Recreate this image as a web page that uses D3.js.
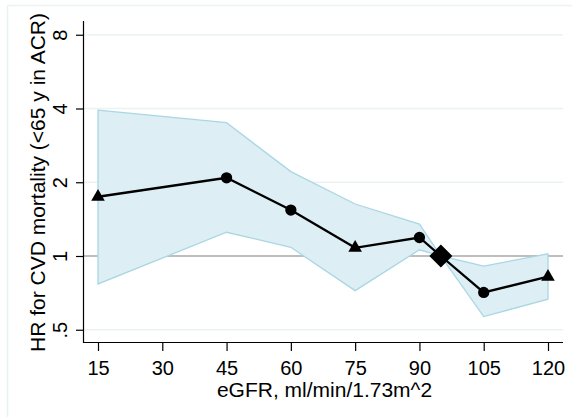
<!DOCTYPE html>
<html><head><meta charset="utf-8">
<script src="https://cdn.jsdelivr.net/npm/d3@7"></script>
<style>
html,body{margin:0;padding:0;background:#fff;}
svg{display:block;}
text{font-family:"Liberation Sans",Arial,Helvetica,sans-serif;fill:#000;}
</style></head>
<body>
<svg id="chart" width="572" height="417"></svg>
<script>
const eGFR   = [15, 45, 60, 75, 90, 95, 105, 120];
const hr     = [1.745, 2.086, 1.54, 1.08, 1.19, 1.0, 0.71, 0.823];
const lower  = [0.769, 1.25, 1.085, 0.722, 1.06, 1.0, 0.566, 0.666];
const upper  = [3.94, 3.50, 2.21, 1.63, 1.35, 1.0, 0.91, 1.02];
const markers = ["triangle","circle","circle","triangle","circle","diamond","circle","triangle"];
const xTicks = [15, 30, 45, 60, 75, 90, 105, 120];
const yTicks = [0.5, 1, 2, 4, 8];
const yTickLabels = [".5", "1", "2", "4", "8"];
const xTitle = "eGFR, ml/min/1.73m^2";
const yTitle = "HR for CVD mortality (<65 y in ACR)";

const svg = d3.select("#chart");
const W = 572, H = 417;
const plotL = 84, plotR = 563, plotT = 21, plotB = 342;

const x = d3.scaleLinear().domain([15, 120]).range([98, 548]);
const y = d3.scaleLog().base(2).domain([0.5, 8]).range([329.75, 34.75]);

// outer frame
svg.append("rect").attr("x", 7.5).attr("y", 5.5).attr("width", W).attr("height", H)
  .attr("fill", "#fff").attr("stroke", "#eaf2f3").attr("stroke-width", 1.5);

// gridlines
svg.append("g").selectAll("line").data(yTicks.filter(d => d !== 1)).join("line")
  .attr("x1", plotL).attr("x2", plotR)
  .attr("y1", d => y(d)).attr("y2", d => y(d))
  .attr("stroke", "#eaf2f3").attr("stroke-width", 1.5);

// reference line at 1
svg.append("line").attr("x1", plotL).attr("x2", plotR)
  .attr("y1", y(1)).attr("y2", y(1))
  .attr("stroke", "#7f7f7f").attr("stroke-width", 1.2);

// CI band
const data = eGFR.map((e, i) => ({e, hr: hr[i], lo: lower[i], hi: upper[i], m: markers[i]}));
const area = d3.area().x(d => x(d.e)).y0(d => y(d.lo)).y1(d => y(d.hi));
svg.append("path").datum(data).attr("d", area)
  .attr("fill", "#ddeef4").attr("stroke", "#a9d7e3").attr("stroke-width", 1.3)
  .attr("stroke-linejoin", "miter");

// line
const line = d3.line().x(d => x(d.e)).y(d => y(d.hr));
svg.append("path").datum(data).attr("d", line)
  .attr("fill", "none").attr("stroke", "#000").attr("stroke-width", 2.3);

// markers
const symFor = m => m === "triangle" ? d3.symbol(d3.symbolTriangle, 80)
  : m === "circle" ? d3.symbol(d3.symbolCircle, 100)
  : d3.symbol(d3.symbolSquare, 265);
svg.append("g").selectAll("path").data(data).join("path")
  .attr("d", d => symFor(d.m)())
  .attr("transform", d => `translate(${x(d.e)},${y(d.hr)})` + (d.m === "diamond" ? " rotate(45)" : ""))
  .attr("fill", "#000");

// axes
const xAxis = d3.axisBottom(x).tickValues(xTicks).tickSize(9).tickPadding(10).tickFormat(d3.format("d"));
const gx = svg.append("g").attr("transform", `translate(0,${plotB})`).call(xAxis);
gx.select(".domain").remove();
gx.append("line").attr("x1", plotL).attr("x2", plotR).attr("y1", 0.5).attr("y2", 0.5)
  .attr("stroke", "#000").attr("stroke-width", 1.2);
gx.selectAll(".tick line").attr("stroke", "#000").attr("stroke-width", 1.2);
gx.selectAll(".tick text").attr("font-size", 20).attr("fill", "#000")
  .attr("font-family", '"Liberation Sans",Arial,sans-serif');

const yAxis = d3.axisLeft(y).tickValues(yTicks).tickSize(8)
  .tickFormat((d, i) => yTickLabels[i]);
const gy = svg.append("g").attr("transform", `translate(${plotL},0)`).call(yAxis);
gy.select(".domain").remove();
gy.append("line").attr("x1", -0.5).attr("x2", -0.5).attr("y1", plotT).attr("y2", plotB + 1)
  .attr("stroke", "#000").attr("stroke-width", 1.2);
gy.selectAll(".tick line").attr("stroke", "#000").attr("stroke-width", 1.2);
gy.selectAll(".tick text").attr("font-size", 20).attr("fill", "#000")
  .attr("font-family", '"Liberation Sans",Arial,sans-serif')
  .attr("x", null).attr("dy", null)
  .attr("text-anchor", "middle")
  .attr("transform", "translate(-17,0) rotate(-90)");

// titles
svg.append("text").attr("x", (plotL + plotR) / 2 + 1).attr("y", 397)
  .attr("text-anchor", "middle").attr("font-size", 21).text(xTitle);
svg.append("text").attr("transform", "translate(45,182.5) rotate(-90)")
  .attr("text-anchor", "middle").attr("font-size", 21).text(yTitle);
</script>
</body></html>
